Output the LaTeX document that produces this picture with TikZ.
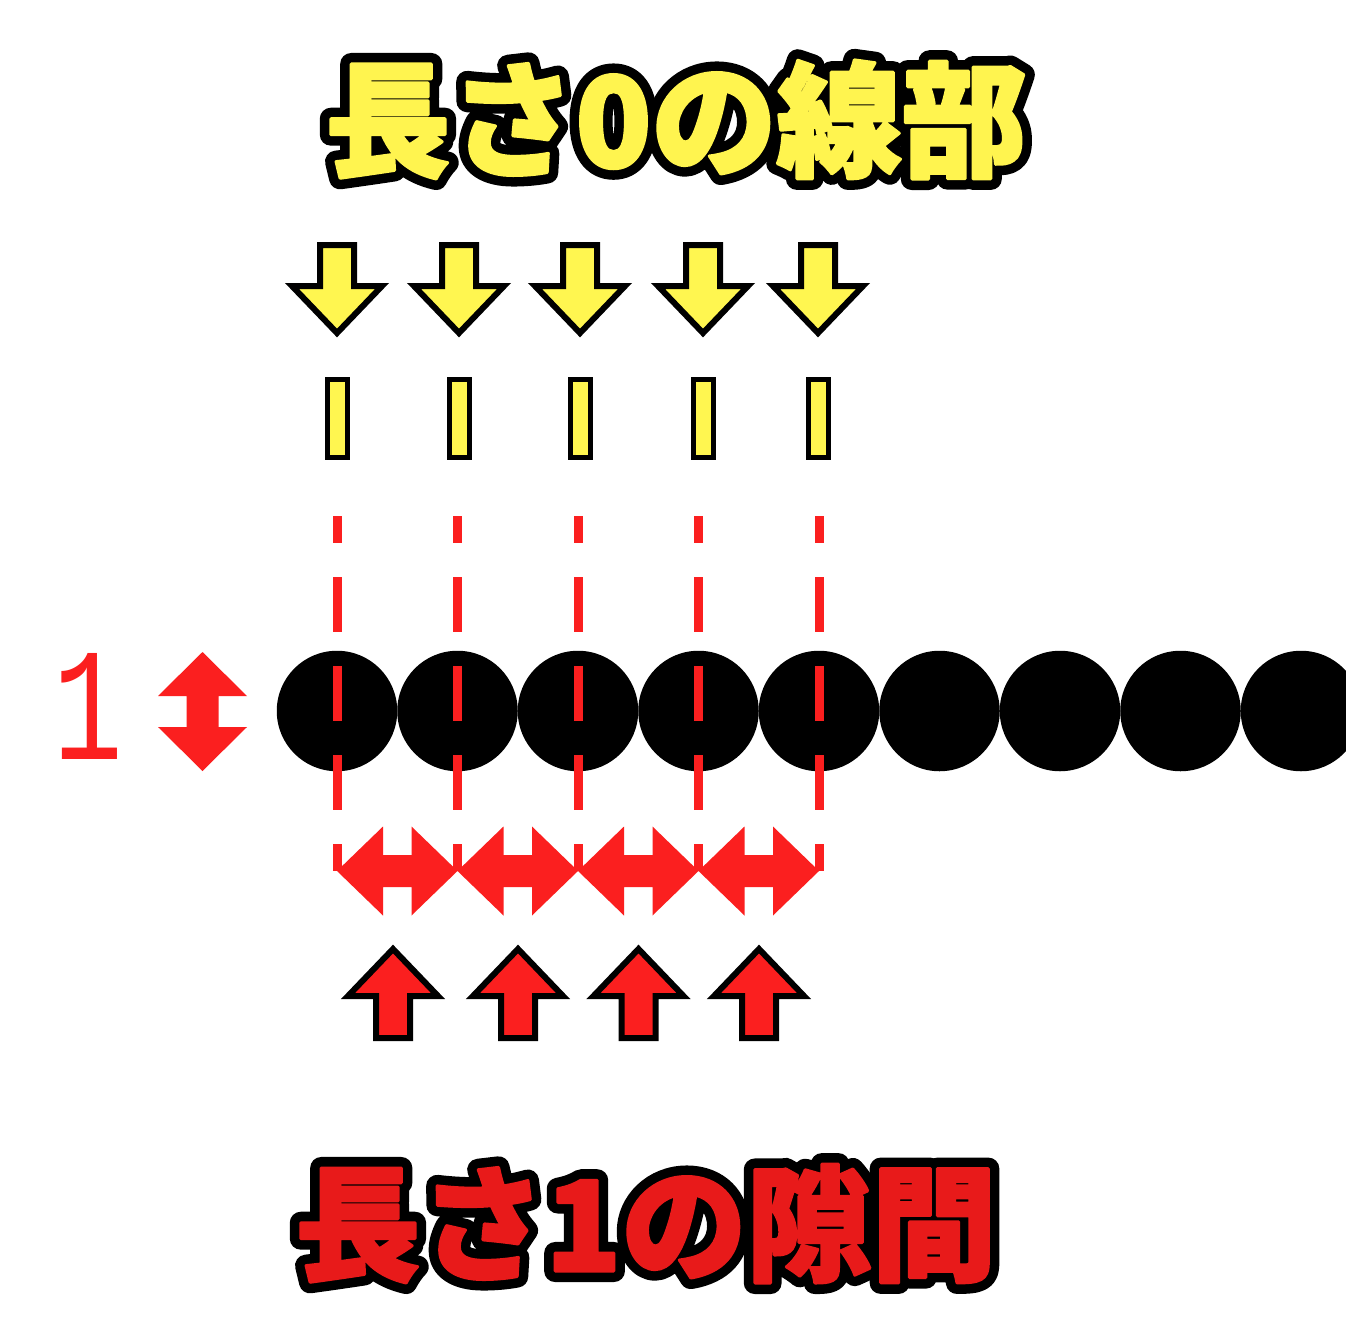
\documentclass[tikz,border=0pt]{standalone}
\usepackage{fontspec}
\newfontfamily\cjk{Noto Sans CJK JP}
\newfontfamily\monof{Liberation Mono}
\definecolor{ayellow}{HTML}{FFF650}
\definecolor{ared}{HTML}{FB1F1F}
\definecolor{tyellow}{HTML}{FFF44F}
\definecolor{tred}{HTML}{E81A1A}
\newcommand\strk[2]{\special{pdf:literal direct 2 Tr #1 w 1 j}#2\special{pdf:literal direct 0 Tr}}
\tikzset{
  dot/.style={circle,fill=black,inner sep=0pt,minimum size=120.5pt},
  yarrow/.style={fill=ayellow,draw=black,line width=6pt,miter limit=4},
  ybar/.style={fill=ayellow,draw=black,line width=5pt},
  rarrow/.style={fill=ared,draw=black,line width=6pt,miter limit=4},
  dblarrow/.style={fill=ared},
  dashl/.style={draw=ared,line width=9pt,dash pattern=on 55pt off 34pt,dash phase=28pt},
  ttl/.style={anchor=base,inner sep=0pt,font=\cjk\bfseries\fontsize{125}{125}\selectfont},
  lbl/.style={anchor=base,inner sep=0pt,text=ared,xscale=0.72,font=\monof\fontsize{161}{161}\selectfont}
}
\begin{document}
\begin{tikzpicture}[x=1pt,y=-1pt]
\useasboundingbox (0,0) rectangle (1346,1330);
\fill[white] (0,0) rectangle (1346,1330);

% yellow down arrows
\foreach \c in {337,459,580,703,818}{
  \draw[yarrow] (\c-17,245) -- (\c+17,245) -- (\c+17,286) -- (\c+45,286) -- (\c,333) -- (\c-45,286) -- (\c-17,286) -- cycle;
  \draw[ybar] (\c-10,379.5) rectangle (\c+10,457.5);
}

% circles
\foreach \i in {1,...,9}{
  \node[dot] (c\i) at ({337+120.5*(\i-1)},711) {};
}

% horizontal double arrows
\foreach \a/\b in {337/457.5,457.5/578,578/698.5,698.5/819}{
  \fill[dblarrow] (\a,871) -- (\a+46,826.5) -- (\a+46,855) -- (\b-46,855) -- (\b-46,826.5) -- (\b,871) -- (\b-46,915.5) -- (\b-46,887) -- (\a+46,887) -- (\a+46,915.5) -- cycle;
}

% dashed guide lines
\foreach \i in {1,...,5}{
  \coordinate (t\i) at ([yshift=195pt]c\i.center);
  \coordinate (b\i) at ([yshift=-160pt]c\i.center);
  \draw[dashl] (t\i) -- (b\i);
}

% red up arrows
\foreach \c in {393,518,638.5,759}{
  \draw[rarrow] (\c,949) -- (\c+45,996) -- (\c+17,996) -- (\c+17,1038) -- (\c-17,1038) -- (\c-17,996) -- (\c-45,996) -- cycle;
}

% vertical double arrow and label
\fill[dblarrow] (202.5,652) -- (247,696) -- (218.5,696) -- (218.5,727) -- (247,727) -- (202.5,771) -- (158,727) -- (186.5,727) -- (186.5,696) -- (158,696) -- cycle;
\node[lbl] (one) at (88,759) {1};

% titles
\node[ttl,text=black] (top0) at (676,167) {\strk{22}{長さ0の線部}};
\node[ttl,text=tyellow] (top) at (676,167) {\strk{3}{長さ0の線部}};
\node[ttl,text=black] (bot0) at (646,1271) {\strk{22}{長さ1の隙間}};
\node[ttl,text=tred] (bot) at (646,1271) {\strk{3}{長さ1の隙間}};
\end{tikzpicture}
\end{document}
